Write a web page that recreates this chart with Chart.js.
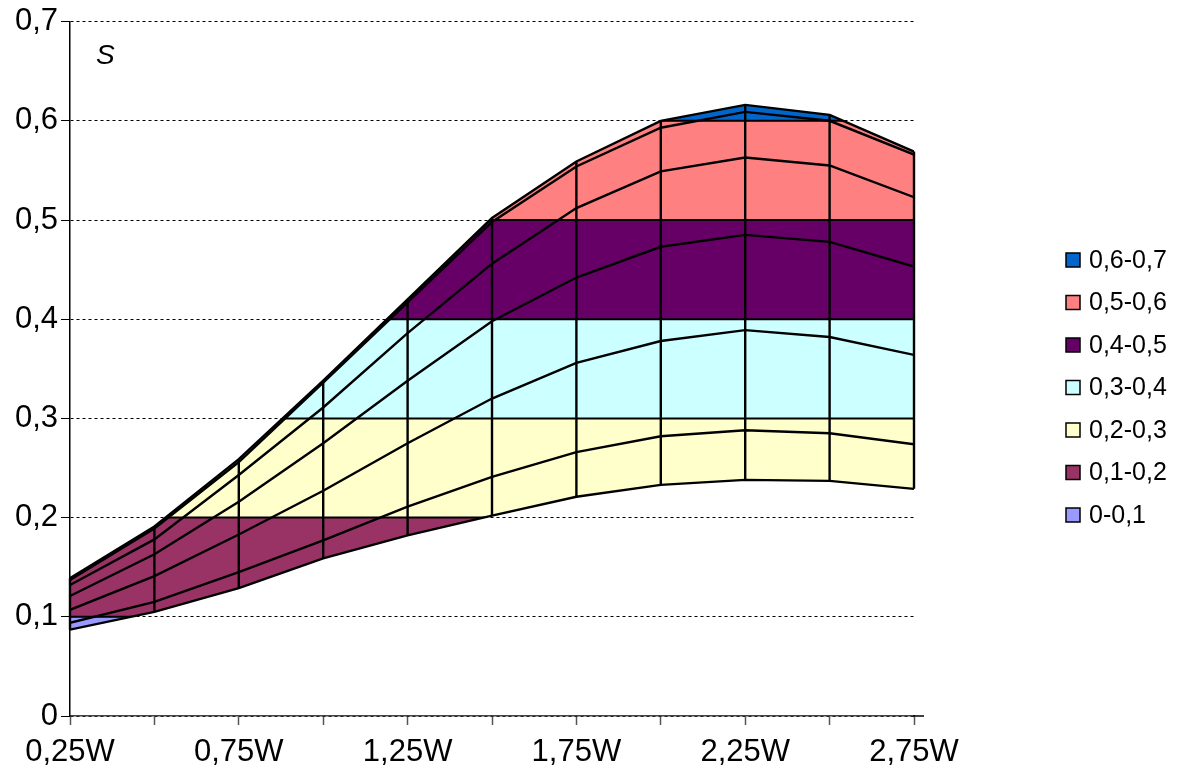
<!DOCTYPE html>
<html>
<head>
<meta charset="utf-8">
<script src="https://cdn.jsdelivr.net/npm/chart.js@4/dist/chart.umd.min.js"></script>
<style>
  html, body { margin: 0; padding: 0; background: #ffffff; }
  canvas { display: block; }
</style>
</head>
<body>
<canvas id="chart" width="1185" height="773"></canvas>
<script>
// Category positions (multiples of W) and the labels shown under the axis
const xValues = [0.25, 0.5, 0.75, 1, 1.25, 1.5, 1.75, 2, 2.25, 2.5, 2.75];
const xTickLabels = ['0,25W', '', '0,75W', '', '1,25W', '', '1,75W', '', '2,25W', '', '2,75W'];

// Surface rows, from the lowest to the highest
const row1 = [0.087, 0.105, 0.129, 0.159, 0.182, 0.202, 0.221, 0.233, 0.238, 0.237, 0.229];
const row2 = [0.094, 0.115, 0.145, 0.177, 0.211, 0.241, 0.266, 0.282, 0.288, 0.285, 0.274];
const row3 = [0.107, 0.141, 0.183, 0.227, 0.275, 0.320, 0.356, 0.378, 0.389, 0.382, 0.364];
const row4 = [0.121, 0.163, 0.216, 0.275, 0.338, 0.398, 0.442, 0.473, 0.485, 0.478, 0.453];
const row5 = [0.132, 0.178, 0.243, 0.311, 0.386, 0.456, 0.512, 0.549, 0.563, 0.555, 0.523];
const row6 = [0.137, 0.189, 0.256, 0.336, 0.417, 0.498, 0.554, 0.593, 0.609, 0.600, 0.566];
const row7 = [0.139, 0.191, 0.259, 0.338, 0.420, 0.502, 0.559, 0.600, 0.616, 0.606, 0.569];
const rows = [row1, row2, row3, row4, row5, row6, row7];

// Value bands of the surface colouring
const bandLimits = [0, 0.1, 0.2, 0.3, 0.4, 0.5, 0.6, 0.7];
const bandLabels = ['0-0,1', '0,1-0,2', '0,2-0,3', '0,3-0,4', '0,4-0,5', '0,5-0,6', '0,6-0,7'];
const bandColors = ['#9999FF', '#993366', '#FFFFCC', '#CCFFFF', '#660066', '#FF8080', '#0066CC'];

// Vertical axis
const yMin = 0, yMax = 0.7, yStep = 0.1;

const FONT = "'Liberation Sans', Arial, sans-serif";

function fmt(v) {
  return String(Math.round(v * 10) / 10).replace('.', ',');
}

// Fills the area between the lowest and highest row band by band,
// then draws the contour lines and the category wires on top of it.
const surfacePlugin = {
  id: 'surface',
  beforeDatasetsDraw(chart) {
    const { ctx, chartArea, scales: { x, y } } = chart;
    const top = rows[rows.length - 1];
    const bottom = rows[0];
    const outline = () => {
      ctx.beginPath();
      xValues.forEach((v, i) => {
        const px = x.getPixelForValue(v), py = y.getPixelForValue(top[i]);
        if (i === 0) ctx.moveTo(px, py); else ctx.lineTo(px, py);
      });
      for (let i = xValues.length - 1; i >= 0; i--) {
        ctx.lineTo(x.getPixelForValue(xValues[i]), y.getPixelForValue(bottom[i]));
      }
      ctx.closePath();
    };

    bandColors.forEach((color, k) => {
      const yTop = y.getPixelForValue(bandLimits[k + 1]);
      const yBot = y.getPixelForValue(bandLimits[k]);
      ctx.save();
      ctx.beginPath();
      ctx.rect(chartArea.left - 2, yTop - 0.5, chartArea.right - chartArea.left + 4, yBot - yTop + 1);
      ctx.clip();
      outline();
      ctx.fillStyle = color;
      ctx.fill();
      ctx.restore();
    });

    // contour lines at the band limits
    ctx.save();
    outline();
    ctx.clip();
    ctx.strokeStyle = '#000';
    ctx.lineWidth = 2;
    bandLimits.slice(1, -1).forEach(v => {
      const py = y.getPixelForValue(v);
      ctx.beginPath();
      ctx.moveTo(chartArea.left - 2, py);
      ctx.lineTo(chartArea.right + 2, py);
      ctx.stroke();
    });
    ctx.restore();

    // wires along each category
    ctx.save();
    ctx.strokeStyle = '#000';
    ctx.lineWidth = 2.4;
    xValues.forEach((v, i) => {
      const px = x.getPixelForValue(v);
      ctx.beginPath();
      ctx.moveTo(px, y.getPixelForValue(bottom[i]));
      ctx.lineTo(px, y.getPixelForValue(top[i]));
      ctx.stroke();
    });
    ctx.restore();
  },
  afterDraw(chart) {
    const { ctx, chartArea, scales: { y } } = chart;
    ctx.save();
    // depth of the floor beyond the last category
    const y0 = y.getPixelForValue(0);
    ctx.strokeStyle = '#000';
    ctx.lineWidth = 1.5;
    ctx.beginPath();
    ctx.moveTo(chartArea.right - 1, y0);
    ctx.lineTo(chartArea.right + 10, y0);
    ctx.stroke();

    // axis title inside the plot
    ctx.fillStyle = '#000';
    ctx.font = 'italic 28px ' + FONT;
    ctx.textAlign = 'left';
    ctx.textBaseline = 'alphabetic';
    ctx.fillText('S', chartArea.left + 26, chartArea.top + 42);

    // legend, highest band first
    const rowGap = 42.5;
    const n = bandLabels.length;
    const cy = chart.height / 2 + 1;
    const boxX = 1066, box = 14;
    ctx.font = '25px ' + FONT;
    ctx.textBaseline = 'middle';
    for (let j = 0; j < n; j++) {
      const k = n - 1 - j;
      const yc = cy + (j - (n - 1) / 2) * rowGap;
      ctx.fillStyle = bandColors[k];
      ctx.fillRect(boxX, yc - box / 2, box, box);
      ctx.strokeStyle = '#000';
      ctx.lineWidth = 1.5;
      ctx.strokeRect(boxX, yc - box / 2, box, box);
      ctx.fillStyle = '#000';
      ctx.fillText(bandLabels[k], boxX + 23, yc + 1);
    }
    ctx.restore();
  }
};

const datasets = rows.map((r, i) => ({
  label: 'row ' + (i + 1),
  data: xValues.map((v, j) => ({ x: v, y: r[j] })),
  borderColor: '#000',
  borderWidth: 2.4,
  pointRadius: 0,
  fill: false,
  tension: 0
}));

new Chart(document.getElementById('chart'), {
  type: 'line',
  data: { datasets },
  options: {
    responsive: false,
    animation: false,
    layout: { padding: { top: 20, right: 271, bottom: 0, left: 0 } },
    plugins: { legend: { display: false }, tooltip: { enabled: false } },
    scales: {
      x: {
        type: 'linear',
        min: xValues[0],
        max: xValues[xValues.length - 1],
        afterBuildTicks(scale) {
          scale.ticks = xValues.map(v => ({ value: v }));
        },
        afterFit(scale) { scale.height = 57; },
        ticks: {
          autoSkip: false,
          maxRotation: 0,
          padding: 9,
          color: '#000',
          font: { family: FONT, size: 31 },
          callback(value, index) { return xTickLabels[index]; }
        },
        grid: {
          drawOnChartArea: false,
          drawTicks: true,
          tickLength: 9,
          tickColor: '#555',
          tickWidth: 1.5
        },
        border: { display: true, color: '#444', width: 1.5 }
      },
      y: {
        type: 'linear',
        min: yMin,
        max: yMax,
        afterFit(scale) { scale.width = 70; },
        ticks: {
          stepSize: yStep,
          padding: 3,
          color: '#000',
          font: { family: FONT, size: 31 },
          callback(value) { return fmt(value); }
        },
        grid: {
          color: '#000',
          lineWidth: 1,
          drawTicks: true,
          tickLength: 9,
          tickBorderDash: [],
          tickColor: '#000'
        },
        border: { display: true, color: '#000', width: 1.5, dash: [3, 3] }
      }
    }
  },
  plugins: [surfacePlugin]
});
</script>
</body>
</html>
